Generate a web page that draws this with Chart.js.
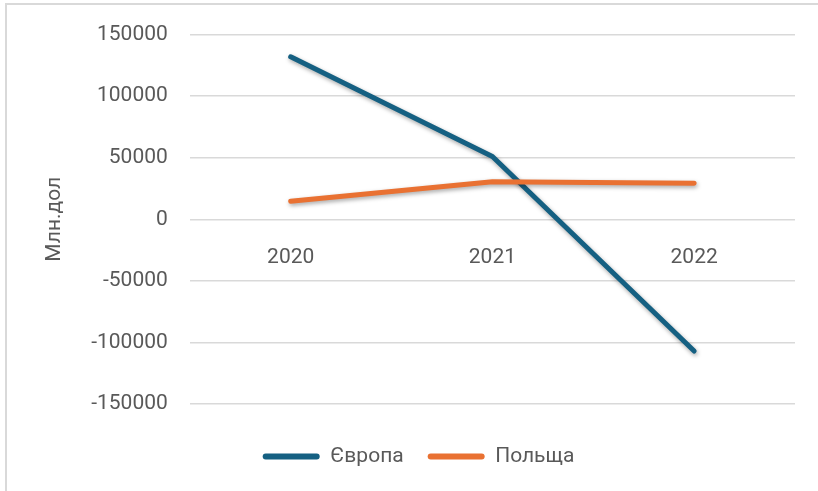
<!DOCTYPE html>
<html>
<head>
<meta charset="utf-8">
<script src="https://cdn.jsdelivr.net/npm/chart.js@4"></script>
<style>
    body { margin: 0; background: #ffffff; }
    #wrap { position: relative; width: 818px; height: 491px; overflow: hidden; }
    #frame { position: absolute; left: 5px; top: 3px; width: 900px; height: 600px; border-left: 2px solid #d9d9d9; border-top: 2px solid #d9d9d9; }
    #myChart { position: absolute; left: 0; top: 0; }
</style>
</head>
<body>
<div id="wrap">
    <div id="frame"></div>
    <canvas id="myChart" width="818" height="491"></canvas>
</div>
<script>
const years = ['2020', '2021', '2022'];
const europeValues = [132000, 51000, -107000];
const polandValues = [14600, 30500, 29300];
const yTicks = [150000, 100000, 50000, 0, -50000, -100000, -150000];

const textColor = '#595959';
const gridColor = '#d9d9d9';
const fontFamily = 'Roboto';
const fontSize = 21;

// soft shadow under the lines, like the office chart
const lineShadow = {
    id: 'lineShadow',
    beforeDatasetsDraw(chart) {
        const ctx = chart.ctx;
        ctx.save();
        ctx.shadowColor = 'rgba(0, 0, 0, 0.35)';
        ctx.shadowBlur = 4;
        ctx.shadowOffsetX = 1;
        ctx.shadowOffsetY = 2;
    },
    afterDatasetsDraw(chart) {
        chart.ctx.restore();
    }
};

const ctx = document.getElementById('myChart').getContext('2d');
const myChart = new Chart(ctx, {
    type: 'line',
    data: {
        labels: years,
        datasets: [{
            label: 'Європа',
            data: europeValues,
            borderColor: '#156082',
            backgroundColor: '#156082',
            borderWidth: 5,
            borderCapStyle: 'round',
            borderJoinStyle: 'round',
            pointRadius: 0,
            tension: 0,
            order: 1
        }, {
            label: 'Польща',
            data: polandValues,
            borderColor: '#e97132',
            backgroundColor: '#e97132',
            borderWidth: 5,
            borderCapStyle: 'round',
            borderJoinStyle: 'round',
            pointRadius: 0,
            tension: 0,
            order: 0
        }]
    },
    options: {
        responsive: false,
        animation: false,
        layout: {
            padding: { left: 42, right: 23, top: 33, bottom: 14 }
        },
        plugins: {
            tooltip: { enabled: false },
            legend: {
                position: 'bottom',
                // empty title only to push the legend row down
                title: {
                    display: true,
                    text: ' ',
                    font: { size: 10 },
                    padding: { top: 0, bottom: 6 }
                },
                labels: {
                    color: textColor,
                    font: { family: fontFamily, size: fontSize },
                    boxWidth: 57,
                    boxHeight: 6,
                    useBorderRadius: true,
                    borderRadius: 3,
                    padding: 24,
                    generateLabels: (chart) => chart.data.datasets.map((ds, i) => ({
                        text: ds.label,
                        fillStyle: ds.borderColor,
                        strokeStyle: ds.borderColor,
                        lineWidth: 0,
                        fontColor: textColor,
                        borderRadius: 3,
                        datasetIndex: i
                    }))
                }
            }
        },
        scales: {
            x: {
                position: { y: 0 },
                offset: true,
                grid: { display: false },
                border: { display: false },
                ticks: {
                    color: textColor,
                    font: { family: fontFamily, size: fontSize },
                    padding: 18
                }
            },
            y: {
                min: -150000,
                max: 150000,
                afterBuildTicks: (scale) => {
                    scale.ticks = yTicks.map(v => ({ value: v }));
                },
                border: { display: false },
                grid: { color: gridColor, lineWidth: 1.5, drawTicks: false },
                ticks: {
                    color: textColor,
                    font: { family: fontFamily, size: fontSize },
                    padding: 22,
                    callback: (v) => String(v)
                },
                title: {
                    display: true,
                    text: 'Млн.дол',
                    color: textColor,
                    font: { family: fontFamily, size: fontSize },
                    padding: { top: 0, bottom: 2 }
                }
            }
        }
    },
    plugins: [lineShadow]
});
</script>
</body>
</html>
